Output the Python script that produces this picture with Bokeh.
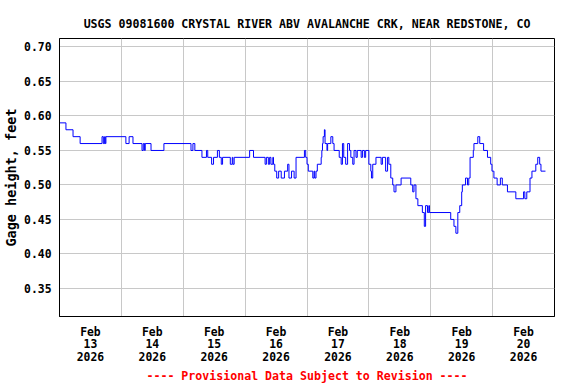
from bokeh.plotting import figure
from bokeh.models import FixedTicker, Range1d, Title
from bokeh.embed import file_html
from bokeh.resources import INLINE

# Hours since 2026-02-13 00:00 and gage height (feet)
hours = [0, 2.5, 5.25, 8, 16.5, 17, 17.5, 17.75, 18, 25.75, 27, 28.5, 32, 32.5, 33, 33.25,
         35.5, 40.5, 51, 51.75, 52.5, 55.25, 57, 57.5, 59, 59.75, 61.25, 62, 62.75, 63.25,
         66.25, 67, 67.25, 67.75, 73.75, 75.25, 79.75, 80.25, 81, 81.5, 82, 82.75, 83, 83.5,
         84.25, 85, 86, 87.25, 88.5, 89, 90, 91, 91.75, 95, 95.5, 96, 96.5, 98.25, 98.75, 99,
         99.5, 100, 101.5, 101.75, 102, 102.25, 102.75, 103, 103.75, 104, 105.25, 106, 106.5,
         108.5, 109.25, 109.75, 110.25, 111, 111.75, 112.5, 113, 113.75, 114.25, 115, 115.5,
         117, 117.5, 118.25, 118.75, 120, 120.75, 121, 121.5, 122.75, 124.75, 125.25, 126.5,
         127.25, 127.75, 128.5, 129.25, 129.75, 130.5, 132.5, 136.25, 137, 137.5, 138.25, 139,
         140.75, 141.5, 142, 142.75, 143.25, 143.5, 151.75, 153, 153.75, 154.5, 155.25, 156,
         156.25, 157.5, 158.25, 158.75, 159.25, 160.5, 160.75, 162.25, 163, 164.5, 166, 167.25,
         167.75, 168.5, 169.75, 171, 171.75, 173.75, 177, 180, 180.5, 181.25, 182.5, 183.25,
         184.75, 185.5, 186.25, 186.75, 188.5]
gage = [0.59, 0.58, 0.57, 0.56, 0.57, 0.56, 0.57, 0.56, 0.57, 0.56, 0.57, 0.56, 0.55, 0.56, 0.55, 0.56,
        0.55, 0.56, 0.55, 0.56, 0.55, 0.54, 0.55, 0.54, 0.53, 0.54, 0.55, 0.54, 0.53, 0.54,
        0.53, 0.54, 0.53, 0.54, 0.55, 0.54, 0.53, 0.54, 0.53, 0.54, 0.53, 0.54, 0.53, 0.52,
        0.51, 0.52, 0.51, 0.52, 0.53, 0.51, 0.52, 0.51, 0.54, 0.55, 0.54, 0.53, 0.52, 0.51, 0.52, 0.51,
        0.52, 0.53, 0.54, 0.55, 0.56, 0.57, 0.58, 0.56, 0.55, 0.56, 0.57, 0.56, 0.55,
        0.54, 0.53, 0.56, 0.54, 0.53, 0.56, 0.55, 0.54, 0.53, 0.55, 0.54, 0.55,
        0.54, 0.55, 0.54, 0.55, 0.53, 0.52, 0.51, 0.53, 0.54, 0.53, 0.54, 0.52,
        0.54, 0.53, 0.51, 0.50, 0.49, 0.50, 0.51, 0.50, 0.49, 0.50, 0.48, 0.47,
        0.46, 0.44, 0.47, 0.46, 0.47, 0.46, 0.45, 0.44, 0.43, 0.46, 0.47, 0.49,
        0.50, 0.51, 0.50, 0.51, 0.54, 0.55, 0.56, 0.57, 0.56, 0.55, 0.54, 0.53,
        0.52, 0.51, 0.50, 0.51, 0.50, 0.49, 0.48, 0.49, 0.48, 0.49, 0.51, 0.52,
        0.53, 0.54, 0.53, 0.52, 0.52]

y_ticks = [0.35, 0.40, 0.45, 0.50, 0.55, 0.60, 0.65, 0.70]
day_label_hours = [12, 36, 60, 84, 108, 132, 156, 180]
day_labels = ["Feb\n13\n2026", "Feb\n14\n2026", "Feb\n15\n2026", "Feb\n16\n2026",
              "Feb\n17\n2026", "Feb\n18\n2026", "Feb\n19\n2026", "Feb\n20\n2026"]
day_boundaries = [24, 48, 72, 96, 120, 144, 168]

title_text = "USGS 09081600 CRYSTAL RIVER ABV AVALANCHE CRK, NEAR REDSTONE, CO"
footer_text = "---- Provisional Data Subject to Revision ----"
FONT = "DejaVu Sans Mono"

p = figure(width=576, height=384, output_backend="svg", toolbar_location=None,
           x_range=Range1d(0, 192), y_range=Range1d(0.3093, 0.7123),
           min_border_left=58, min_border_right=22, min_border_top=38, min_border_bottom=68)

p.step(hours, gage, mode="after", line_color="#0000ff", line_width=1)

p.title.text = title_text
p.title.align = "center"
p.title.text_font = FONT
p.title.text_font_size = "11.6px"
p.title.text_font_style = "bold"
p.title.text_color = "black"
p.title.standoff = 16

footer = Title(text=footer_text, align="center", text_color="#ff0000",
               text_font=FONT, text_font_size="11.6px", text_font_style="bold", standoff=0)
p.add_layout(footer, "below")

p.outline_line_color = "black"
p.outline_line_width = 1

# y axis
p.yaxis.ticker = FixedTicker(ticks=y_ticks)
p.yaxis.major_label_overrides = {t: f"{t:.2f}" for t in y_ticks}
p.yaxis.major_tick_out = 0
p.yaxis.major_tick_in = 0
p.yaxis.minor_tick_out = 0
p.yaxis.minor_tick_in = 0
p.yaxis.major_label_standoff = 8
p.yaxis.major_label_text_font = FONT
p.yaxis.major_label_text_font_size = "11.4px"
p.yaxis.major_label_text_font_style = "bold"
p.yaxis.major_label_text_color = "black"
p.yaxis.axis_line_color = "black"
p.yaxis.axis_label = "Gage height, feet"
p.yaxis.axis_label_text_font = FONT
p.yaxis.axis_label_text_font_size = "13.5px"
p.yaxis.axis_label_text_font_style = "bold"
p.yaxis.axis_label_text_color = "black"
p.yaxis.axis_label_standoff = 2

# x axis
p.xaxis.ticker = FixedTicker(ticks=day_label_hours)
p.xaxis.major_label_overrides = dict(zip(day_label_hours, day_labels))
p.xaxis.major_tick_out = 0
p.xaxis.major_tick_in = 0
p.xaxis.minor_tick_out = 0
p.xaxis.minor_tick_in = 0
p.xaxis.major_label_standoff = 8
p.xaxis.major_label_text_font = FONT
p.xaxis.major_label_text_font_size = "11.4px"
p.xaxis.major_label_text_font_style = "bold"
p.xaxis.major_label_text_color = "black"
p.xaxis.major_label_text_line_height = 0.9
p.xaxis.axis_line_color = "black"

p.xgrid.ticker = FixedTicker(ticks=day_boundaries)
p.xgrid.grid_line_color = "#c8c8c8"
p.ygrid.grid_line_color = "#c8c8c8"
p.background_fill_color = "white"
p.border_fill_color = "white"

open("out.html", "w").write(file_html(p, INLINE))
